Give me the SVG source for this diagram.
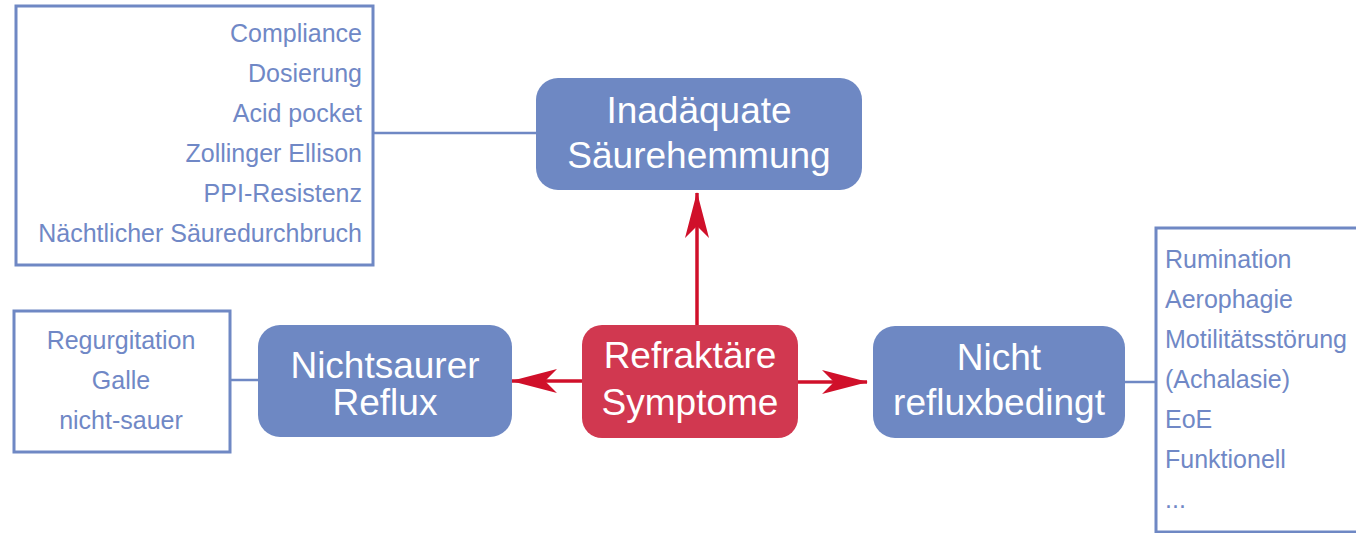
<svg xmlns="http://www.w3.org/2000/svg" width="1356" height="533" viewBox="0 0 1356 533">
<style>
.list{fill:none;stroke:#6f88c4;stroke-width:3}
.lt{font-family:"Liberation Sans",Arial,sans-serif;font-size:25px;fill:#7088c6}
.node{fill:#6e88c3}
.red{fill:#d13850}
.nt{font-family:"Liberation Sans",Arial,sans-serif;font-size:37px;fill:#ffffff;text-anchor:middle}
.conn{stroke:#6f88c4;stroke-width:2.5;fill:none}
.arr{stroke:#d0102a;stroke-width:3.5;fill:none}
</style>
<defs>
<marker id="ah" markerWidth="14" markerHeight="12" refX="13" refY="6" orient="auto" markerUnits="userSpaceOnUse" viewBox="0 0 14 12">
<path d="M0,0 L14,6 L0,12 L4,6 Z" fill="#d0102a"/>
</marker>
<marker id="ahv" markerWidth="46" markerHeight="24" refX="45" refY="12" orient="auto" markerUnits="userSpaceOnUse" viewBox="0 0 46 24">
<path d="M0,0 L46,12 L0,24 L12,12 Z" fill="#d0102a"/>
</marker>
</defs>
<rect width="1356" height="533" fill="#ffffff"/>
<g id="connectors">
<line class="conn" x1="373" y1="133" x2="537" y2="133"/>
<line class="conn" x1="230" y1="380" x2="258" y2="380"/>
<line class="conn" x1="1125" y1="382" x2="1155" y2="382"/>
<line class="arr" x1="697" y1="325" x2="697" y2="193" marker-end="url(#ahv)"/>
<line class="arr" x1="582" y1="381" x2="512" y2="381" marker-end="url(#ahv)"/>
<line class="arr" x1="798" y1="382" x2="867" y2="382" marker-end="url(#ahv)"/>
</g>
<g id="list-saeure">
<rect class="list" x="16" y="6" width="357" height="259"/>
<g class="lt" text-anchor="end">
<text x="362" y="42">Compliance</text>
<text x="362" y="82">Dosierung</text>
<text x="362" y="122">Acid pocket</text>
<text x="362" y="162">Zollinger Ellison</text>
<text x="362" y="202">PPI-Resistenz</text>
<text x="362" y="242">Nächtlicher Säuredurchbruch</text>
</g>
</g>
<g id="node-inadaequat">
<rect class="node" x="536" y="78" width="326" height="112" rx="22"/>
<text class="nt" x="699" y="123">Inadäquate</text>
<text class="nt" x="699" y="168">Säurehemmung</text>
</g>
<g id="node-refraktaer">
<rect class="red" x="582" y="325" width="216" height="113" rx="20"/>
<text class="nt" x="690" y="368">Refraktäre</text>
<text class="nt" x="690" y="415">Symptome</text>
</g>
<g id="node-nichtsauer">
<rect class="node" x="258" y="325" width="254" height="112" rx="22"/>
<text class="nt" x="385" y="378">Nichtsaurer</text>
<text class="nt" x="385" y="415">Reflux</text>
</g>
<g id="list-nichtsauer">
<rect class="list" x="14" y="311" width="216" height="141"/>
<g class="lt" text-anchor="middle">
<text x="121" y="349">Regurgitation</text>
<text x="121" y="389">Galle</text>
<text x="121" y="429">nicht-sauer</text>
</g>
</g>
<g id="node-nichtreflux">
<rect class="node" x="873" y="326" width="252" height="112" rx="22"/>
<text class="nt" x="999" y="370">Nicht</text>
<text class="nt" x="999" y="415">refluxbedingt</text>
</g>
<g id="list-nichtreflux">
<rect class="list" x="1156" y="228" width="220" height="304"/>
<g class="lt">
<text x="1165" y="268">Rumination</text>
<text x="1165" y="308">Aerophagie</text>
<text x="1165" y="348">Motilitätsstörung</text>
<text x="1165" y="388">(Achalasie)</text>
<text x="1165" y="428">EoE</text>
<text x="1165" y="468">Funktionell</text>
<text x="1165" y="508">...</text>
</g>
</g>
</svg>
